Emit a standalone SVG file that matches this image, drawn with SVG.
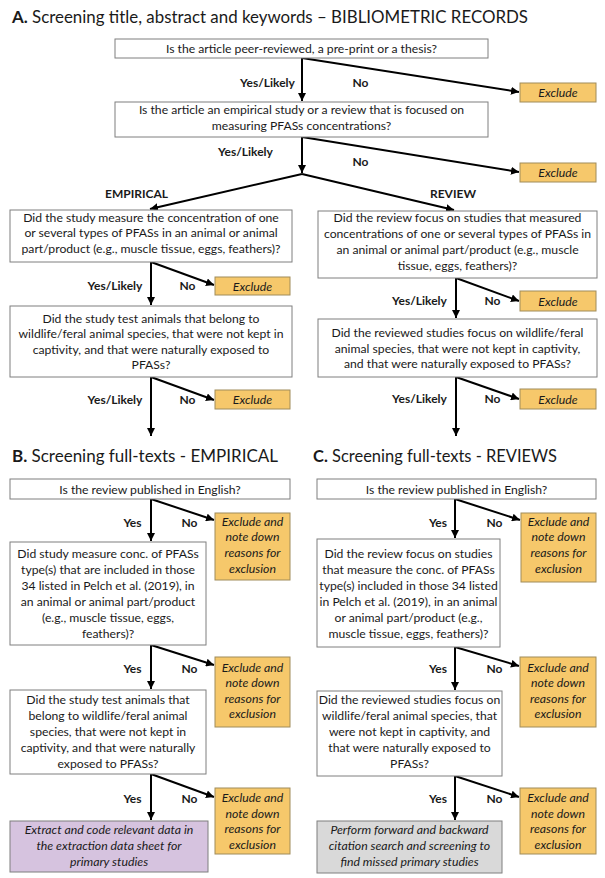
<svg xmlns="http://www.w3.org/2000/svg" width="605" height="878" viewBox="0 0 605 878">
<style>
.bg{fill:#ffffff}
.q{fill:#ffffff;stroke:#7f7f7f;stroke-width:1}
.ex{fill:#f6c86b;stroke:#a08c5b;stroke-width:1}
.pu{fill:#d6c3df;stroke:#7f7f7f;stroke-width:1}
.gr{fill:#d9d9d9;stroke:#7f7f7f;stroke-width:1}
text{font-family:Lato,"Liberation Sans",sans-serif;fill:#1a1a1a}
.t{font-size:12.2px;text-anchor:middle}
.i{font-size:12.3px;text-anchor:middle;font-style:italic}
.l{font-size:12px;text-anchor:middle;font-weight:bold}
.h{font-size:17px}
.hb{font-weight:bold}
.c line{stroke:#000;stroke-width:2;marker-end:url(#ah)}
</style>
<defs>
<marker id="ah" markerUnits="userSpaceOnUse" markerWidth="9" markerHeight="8" refX="8" refY="4" orient="auto">
<path d="M0,0 L8,4 L0,8 z" fill="#000"/>
</marker>
</defs>
<rect class="bg" x="0" y="0" width="605" height="878"/>

<g id="titles">
<text class="h" x="12" y="23" textLength="516" lengthAdjust="spacingAndGlyphs"><tspan class="hb">A.</tspan> Screening title, abstract and keywords – BIBLIOMETRIC RECORDS</text>
<text class="h" x="12" y="462" textLength="266" lengthAdjust="spacingAndGlyphs"><tspan class="hb">B.</tspan> Screening full-texts - EMPIRICAL</text>
<text class="h" x="313" y="462" textLength="244" lengthAdjust="spacingAndGlyphs"><tspan class="hb">C.</tspan> Screening full-texts - REVIEWS</text>
</g>

<g class="c" id="connectors">
<line x1="302" y1="58" x2="302" y2="101"/>
<line x1="302" y1="58" x2="519" y2="92"/>
<line x1="302" y1="137" x2="302" y2="173"/>
<line x1="302" y1="137" x2="519" y2="172"/>
<line x1="302" y1="174" x2="150" y2="209"/>
<line x1="302" y1="174" x2="454" y2="210"/>
<line x1="151" y1="262" x2="151" y2="305"/>
<line x1="151" y1="262" x2="214" y2="285"/>
<line x1="151" y1="377" x2="151" y2="436"/>
<line x1="151" y1="377" x2="214" y2="400"/>
<line x1="456" y1="278" x2="456" y2="318"/>
<line x1="456" y1="278" x2="519" y2="301"/>
<line x1="456" y1="377" x2="456" y2="436"/>
<line x1="456" y1="377" x2="519" y2="399"/>

<line x1="151" y1="499" x2="151" y2="541"/>
<line x1="151" y1="499" x2="214" y2="520"/>
<line x1="151" y1="645" x2="151" y2="689"/>
<line x1="151" y1="645" x2="214" y2="665"/>
<line x1="151" y1="774" x2="151" y2="820"/>
<line x1="151" y1="774" x2="214" y2="797"/>

<line x1="455" y1="499" x2="455" y2="538"/>
<line x1="455" y1="499" x2="520" y2="520"/>
<line x1="455" y1="647" x2="455" y2="690"/>
<line x1="455" y1="647" x2="519" y2="666"/>
<line x1="455" y1="776" x2="455" y2="820"/>
<line x1="455" y1="776" x2="519" y2="797"/>
</g>

<g id="labels">
<text class="l" x="267.5" y="86.5">Yes/Likely</text>
<text class="l" x="360.5" y="86.5">No</text>
<text class="l" x="245.5" y="155.5">Yes/Likely</text>
<text class="l" x="360.5" y="165.5">No</text>
<text class="l" x="136.5" y="197.5">EMPIRICAL</text>
<text class="l" x="453" y="197.5">REVIEW</text>
<text class="l" x="115" y="289.5">Yes/Likely</text>
<text class="l" x="187.5" y="289.5">No</text>
<text class="l" x="115" y="403.5">Yes/Likely</text>
<text class="l" x="187.5" y="403.5">No</text>
<text class="l" x="419.5" y="304.5">Yes/Likely</text>
<text class="l" x="492.5" y="304.5">No</text>
<text class="l" x="419.5" y="402.5">Yes/Likely</text>
<text class="l" x="492.5" y="402.5">No</text>
<text class="l" x="132.5" y="526.5">Yes</text>
<text class="l" x="189.5" y="526.5">No</text>
<text class="l" x="132.5" y="672.5">Yes</text>
<text class="l" x="189.5" y="672.5">No</text>
<text class="l" x="132.5" y="802.5">Yes</text>
<text class="l" x="189.5" y="802.5">No</text>
<text class="l" x="438" y="526.5">Yes</text>
<text class="l" x="494.5" y="526.5">No</text>
<text class="l" x="438" y="672.5">Yes</text>
<text class="l" x="494.5" y="672.5">No</text>
<text class="l" x="438" y="802.5">Yes</text>
<text class="l" x="494.5" y="802.5">No</text>
</g>

<g id="a1">
<rect class="q" x="115" y="39" width="373" height="19"/>
<text class="t" x="301.5" y="52.5">Is the article peer-reviewed, a pre-print or a thesis?</text>
</g>
<g id="a2">
<rect class="q" x="115" y="102" width="373" height="35"/>
<text class="t" x="301.5" y="113.5">Is the article an empirical study or a review that is focused on</text>
<text class="t" x="301.5" y="129.5">measuring PFASs concentrations?</text>
</g>
<g id="ex-a1"><rect class="ex" x="520" y="83" width="76" height="19"/><text class="i" x="558" y="97">Exclude</text></g>
<g id="ex-a2"><rect class="ex" x="520" y="163" width="76" height="19"/><text class="i" x="558" y="177">Exclude</text></g>

<g id="a3e">
<rect class="q" x="10" y="210" width="282" height="52"/>
<text class="t" x="151" y="221.5">Did the study measure the concentration of one</text>
<text class="t" x="151" y="237">or several types of PFASs in an animal or animal</text>
<text class="t" x="151" y="252.5">part/product (e.g.,  muscle tissue, eggs, feathers)?</text>
</g>
<g id="a3r">
<rect class="q" x="318" y="211" width="279" height="67"/>
<text class="t" x="457.5" y="221.5">Did the review focus on studies that measured</text>
<text class="t" x="457.5" y="237.5">concentrations of one or several types of PFASs in</text>
<text class="t" x="457.5" y="253.5">an animal or animal part/product (e.g., muscle</text>
<text class="t" x="457.5" y="269.5">tissue, eggs, feathers)?</text>
</g>
<g id="ex-a3e"><rect class="ex" x="215" y="277" width="75" height="18"/><text class="i" x="252.5" y="290.5">Exclude</text></g>
<g id="ex-a3r"><rect class="ex" x="520" y="291" width="76" height="20"/><text class="i" x="558" y="305.5">Exclude</text></g>

<g id="a4e">
<rect class="q" x="10" y="306" width="282" height="71"/>
<text class="t" x="151" y="322.5">Did the study test animals that belong to</text>
<text class="t" x="151" y="338">wildlife/feral animal species, that were not kept in</text>
<text class="t" x="151" y="353.5">captivity, and that were naturally exposed to</text>
<text class="t" x="151" y="369">PFASs?</text>
</g>
<g id="a4r">
<rect class="q" x="318" y="319" width="279" height="58"/>
<text class="t" x="457.5" y="337">Did the reviewed studies focus on wildlife/feral</text>
<text class="t" x="457.5" y="352.5">animal species, that were not kept in captivity,</text>
<text class="t" x="457.5" y="368">and that were naturally exposed to PFASs?</text>
</g>
<g id="ex-a4e"><rect class="ex" x="215" y="390" width="75" height="19"/><text class="i" x="252.5" y="404">Exclude</text></g>
<g id="ex-a4r"><rect class="ex" x="520" y="389" width="76" height="20"/><text class="i" x="558" y="403.5">Exclude</text></g>

<g id="b1">
<rect class="q" x="10" y="479" width="280" height="20"/>
<text class="t" x="150" y="493.5">Is the review published in English?</text>
</g>
<g id="ex-b1">
<rect class="ex" x="215" y="513" width="75" height="67"/>
<text class="i" x="252.5" y="525.5">Exclude and</text>
<text class="i" x="252.5" y="541">note down</text>
<text class="i" x="252.5" y="557">reasons for</text>
<text class="i" x="252.5" y="572.5">exclusion</text>
</g>
<g id="b2">
<rect class="q" x="10" y="542" width="196" height="103"/>
<text class="t" x="108" y="557.5">Did study measure conc. of PFASs</text>
<text class="t" x="108" y="573.5">type(s) that are included in those</text>
<text class="t" x="108" y="589.5">34 listed in Pelch et al. (2019), in</text>
<text class="t" x="108" y="605.5">an animal or animal part/product</text>
<text class="t" x="108" y="621.5">(e.g.,  muscle tissue, eggs,</text>
<text class="t" x="108" y="637.5">feathers)?</text>
</g>
<g id="ex-b2">
<rect class="ex" x="215" y="657" width="75" height="70"/>
<text class="i" x="252.5" y="671.5">Exclude and</text>
<text class="i" x="252.5" y="687">note down</text>
<text class="i" x="252.5" y="702.5">reasons for</text>
<text class="i" x="252.5" y="718">exclusion</text>
</g>
<g id="b3">
<rect class="q" x="10" y="690" width="196" height="84"/>
<text class="t" x="108" y="703.5">Did the study test animals that</text>
<text class="t" x="108" y="719.5">belong to wildlife/feral animal</text>
<text class="t" x="108" y="735.5">species, that were not kept in</text>
<text class="t" x="108" y="751.5">captivity, and that were naturally</text>
<text class="t" x="108" y="767.5">exposed to PFASs?</text>
</g>
<g id="ex-b3">
<rect class="ex" x="215" y="788" width="75" height="66"/>
<text class="i" x="252.5" y="801.5">Exclude and</text>
<text class="i" x="252.5" y="817.5">note down</text>
<text class="i" x="252.5" y="832.5">reasons for</text>
<text class="i" x="252.5" y="848.5">exclusion</text>
</g>
<g id="b4">
<rect class="pu" x="10" y="821" width="198" height="51"/>
<text class="i" x="109" y="833.5">Extract and code relevant data in</text>
<text class="i" x="109" y="849.5">the extraction data sheet for</text>
<text class="i" x="109" y="865.5">primary studies</text>
</g>

<g id="c1">
<rect class="q" x="317" y="479" width="279" height="20"/>
<text class="t" x="456.5" y="493.5">Is the review published in English?</text>
</g>
<g id="ex-c1">
<rect class="ex" x="521" y="513" width="75" height="69"/>
<text class="i" x="558.5" y="525.5">Exclude and</text>
<text class="i" x="558.5" y="541">note down</text>
<text class="i" x="558.5" y="557">reasons for</text>
<text class="i" x="558.5" y="572.5">exclusion</text>
</g>
<g id="c2">
<rect class="q" x="317" y="539" width="183" height="108"/>
<text class="t" x="408.5" y="557.5">Did the review focus on studies</text>
<text class="t" x="408.5" y="574">that measure the  conc. of PFASs</text>
<text class="t" x="408.5" y="590">type(s) included in those 34 listed</text>
<text class="t" x="408.5" y="605.5">in Pelch et al. (2019), in an animal</text>
<text class="t" x="408.5" y="621.5">or animal part/product (e.g.,</text>
<text class="t" x="408.5" y="637.5">muscle tissue, eggs,  feathers)?</text>
</g>
<g id="ex-c2">
<rect class="ex" x="520" y="657" width="76" height="70"/>
<text class="i" x="558" y="671.5">Exclude and</text>
<text class="i" x="558" y="687">note down</text>
<text class="i" x="558" y="702.5">reasons for</text>
<text class="i" x="558" y="718">exclusion</text>
</g>
<g id="c3">
<rect class="q" x="317" y="691" width="185" height="85"/>
<text class="t" x="409.5" y="703.5">Did the reviewed studies focus on</text>
<text class="t" x="409.5" y="719.5">wildlife/feral animal species, that</text>
<text class="t" x="409.5" y="735.5">were not kept in captivity, and</text>
<text class="t" x="409.5" y="751.5">that were  naturally exposed to</text>
<text class="t" x="409.5" y="767.5">PFASs?</text>
</g>
<g id="ex-c3">
<rect class="ex" x="520" y="788" width="76" height="66"/>
<text class="i" x="558" y="801.5">Exclude and</text>
<text class="i" x="558" y="817.5">note down</text>
<text class="i" x="558" y="832.5">reasons for</text>
<text class="i" x="558" y="848.5">exclusion</text>
</g>
<g id="c4">
<rect class="gr" x="317" y="821" width="185" height="52"/>
<text class="i" x="409.5" y="833.5">Perform forward and backward</text>
<text class="i" x="409.5" y="849.5">citation search and screening to</text>
<text class="i" x="409.5" y="865.5">find missed primary studies</text>
</g>
</svg>
